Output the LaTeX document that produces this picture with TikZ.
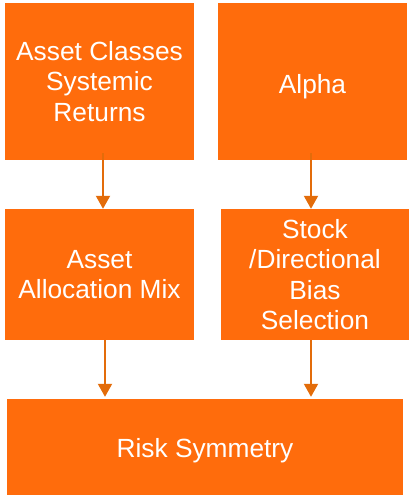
\documentclass[tikz,border=0pt]{standalone}
\usepackage{fontspec}
\setmainfont{Liberation Sans}
\usetikzlibrary{arrows.meta,calc}
\definecolor{boxor}{RGB}{255,108,12}
\definecolor{arrowor}{RGB}{227,108,10}
\begin{document}
\begin{tikzpicture}[x=1pt,y=-1pt,
  box/.style={fill=boxor,draw=none,text=white,align=center,inner sep=0pt,
    font=\fontsize{26.3}{30.5}\selectfont},
  arr/.style={draw=arrowor,line width=2pt,-{Triangle[width=14pt,length=13pt]}}]
\useasboundingbox (0,0) rectangle (409,495);
\node[box,minimum width=189pt,minimum height=157pt] (A) at (99.5,81.5) {Asset Classes\\Systemic\\Returns};
\node[box,minimum width=189pt,minimum height=157pt,text height=30pt] (B) at (312.5,81.5) {Alpha};
\node[box,minimum width=189pt,minimum height=131pt] (C) at (99.5,274.5) {Asset\\Allocation Mix};
\node[box,minimum width=188pt,minimum height=131pt] (D) at (315,274.5) {Stock\\/Directional\\Bias\\Selection};
\node[box,minimum width=396pt,minimum height=96pt,text height=27pt] (E) at (205,447) {Risk Symmetry};
\draw[arr] ($(A.south)+(3.5,-7)$) -- ($(C.north)+(3.5,0)$);
\draw[arr] ($(B.south)+(-1.5,-7)$) -- ($(D.north)+(-4,0)$);
\draw[arr] ($(C.south)+(5.5,0)$) -- ($(E.north)+(-100,-2)$);
\draw[arr] ($(D.south)+(-4,0)$) -- ($(E.north)+(106,-2)$);
\end{tikzpicture}
\end{document}
